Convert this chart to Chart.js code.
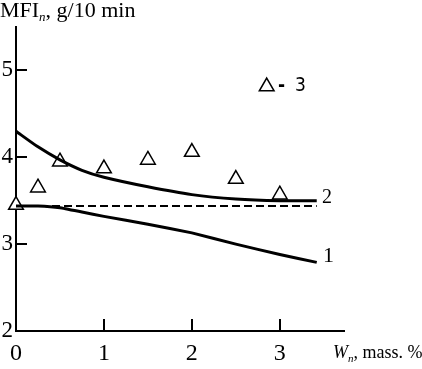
<!DOCTYPE html>
<html>
<head>
<meta charset="utf-8">
<script src="https://cdn.jsdelivr.net/npm/chart.js@4.4.1/dist/chart.umd.min.js"></script>
<style>
  html, body { margin: 0; padding: 0; background: #fff; }
  canvas { display: block; }
</style>
</head>
<body>
<canvas id="mfiChart" width="422" height="369"></canvas>
<script>
// ===== data =====
const curveX = [0, 0.25, 0.5, 0.75, 1.0, 1.5, 2.0, 2.5, 3.0, 3.42];
const curve1 = [3.44, 3.44, 3.42, 3.37, 3.32, 3.23, 3.13, 3.0, 2.88, 2.79];
const curve2 = [4.3, 4.12, 3.97, 3.85, 3.77, 3.66, 3.57, 3.52, 3.5, 3.5];
const baseX = [0, 3.42];
const baseY = [3.44, 3.44];
const pointsX = [0, 0.25, 0.5, 1.0, 1.5, 2.0, 2.5, 3.0];
const points3 = [3.45, 3.65, 3.95, 3.87, 3.97, 4.06, 3.75, 3.57];
const xTicks = [0, 1, 2, 3];
const yTicks = [2, 3, 4, 5];

const SERIF = "'Liberation Serif', 'Times New Roman', serif";

const toXY = (xs, ys) => xs.map((x, i) => ({ x, y: ys[i] }));

// 內向刻度 + 文字標註
const decorPlugin = {
  id: "decor",
  afterDraw(chart) {
    const ctx = chart.ctx;
    const xs = chart.scales.x;
    const ys = chart.scales.y;
    const x0 = xs.getPixelForValue(0);
    const y0 = ys.getPixelForValue(2);

    ctx.save();
    ctx.strokeStyle = "#000";
    ctx.lineWidth = 2;
    yTicks.slice(1).forEach((v) => {
      const py = Math.round(ys.getPixelForValue(v));
      ctx.beginPath();
      ctx.moveTo(x0, py);
      ctx.lineTo(x0 + 11, py);
      ctx.stroke();
    });
    xTicks.slice(1).forEach((v) => {
      const px = Math.round(xs.getPixelForValue(v));
      ctx.beginPath();
      ctx.moveTo(px, y0);
      ctx.lineTo(px, y0 - 12);
      ctx.stroke();
    });

    ctx.fillStyle = "#000";
    ctx.textBaseline = "alphabetic";
    ctx.textAlign = "left";

    // y 軸標題
    ctx.font = `22px ${SERIF}`;
    ctx.fillText("MFI", 0, 17);
    let w = ctx.measureText("MFI").width;
    ctx.font = `italic 13px ${SERIF}`;
    ctx.fillText("n", w, 21);
    w += ctx.measureText("n").width;
    ctx.font = `22px ${SERIF}`;
    ctx.fillText(", g/10 min", w, 17);

    // x 軸標題
    ctx.font = `italic 18px ${SERIF}`;
    ctx.fillText("W", 333, 358);
    w = 333 + ctx.measureText("W").width;
    ctx.font = `italic 11px ${SERIF}`;
    ctx.fillText("n", w, 362);
    w += ctx.measureText("n").width;
    ctx.font = `18px ${SERIF}`;
    ctx.fillText(", mass. %", w, 358);

    // 曲線編號
    ctx.font = `20px ${SERIF}`;
    ctx.fillText("2", 322, 203);
    ctx.font = `22px ${SERIF}`;
    ctx.fillText("1", 323, 262);

    // 圖例 △ - 3
    const lx = 266.7, ly = 86.5, r = 8.5;
    ctx.lineWidth = 1.5;
    ctx.beginPath();
    for (let k = 0; k < 3; k++) {
      const a = (k * 2 * Math.PI) / 3;
      const px = lx + Math.sin(a) * r;
      const py = ly - Math.cos(a) * r;
      if (k === 0) ctx.moveTo(px, py);
      else ctx.lineTo(px, py);
    }
    ctx.closePath();
    ctx.stroke();
    ctx.font = "bold 19px 'Liberation Sans Narrow', 'DejaVu Sans Condensed', sans-serif";
    ctx.fillText("-", 278, 91);
    ctx.font = "19px 'Liberation Sans Narrow', 'DejaVu Sans Condensed', sans-serif";
    ctx.fillText("3", 295, 91);
    ctx.restore();
  },
};

new Chart(document.getElementById("mfiChart"), {
  type: "scatter",
  data: {
    datasets: [
      {
        data: toXY(curveX, curve1),
        showLine: true,
        borderColor: "#000",
        borderWidth: 3,
        pointRadius: 0,
        tension: 0.1,
        clip: false,
      },
      {
        data: toXY(curveX, curve2),
        showLine: true,
        borderColor: "#000",
        borderWidth: 3,
        pointRadius: 0,
        tension: 0.2,
        clip: false,
      },
      {
        data: toXY(baseX, baseY),
        showLine: true,
        borderColor: "#000",
        borderWidth: 2,
        borderDash: [8, 4],
        pointRadius: 0,
        clip: false,
      },
      {
        data: toXY(pointsX, points3),
        showLine: false,
        pointStyle: "triangle",
        pointRadius: 8.5,
        pointBorderColor: "#000",
        pointBackgroundColor: "#fff",
        pointBorderWidth: 1.5,
        clip: false,
      },
    ],
  },
  options: {
    responsive: false,
    animation: false,
    devicePixelRatio: 1,
    layout: { padding: { top: 27, right: 78, left: 0, bottom: 0 } },
    plugins: {
      legend: { display: false },
      tooltip: { enabled: false },
    },
    scales: {
      x: {
        type: "linear",
        min: 0,
        max: 3.73,
        grid: { display: false, drawTicks: false },
        border: { display: true, color: "#000", width: 2 },
        afterBuildTicks: (s) => { s.ticks = xTicks.map((v) => ({ value: v })); },
        afterFit: (s) => { s.height = 38; },
        ticks: {
          color: "#000",
          padding: 8,
          font: { family: SERIF, size: 24 },
        },
      },
      y: {
        type: "linear",
        min: 2,
        max: 5.5,
        grid: { display: false, drawTicks: false },
        border: { display: true, color: "#000", width: 2 },
        afterBuildTicks: (s) => { s.ticks = yTicks.map((v) => ({ value: v })); },
        afterFit: (s) => { s.width = 16; },
        ticks: {
          color: "#000",
          padding: 3,
          font: { family: SERIF, size: 23 },
        },
      },
    },
  },
  plugins: [decorPlugin],
});
</script>
</body>
</html>
